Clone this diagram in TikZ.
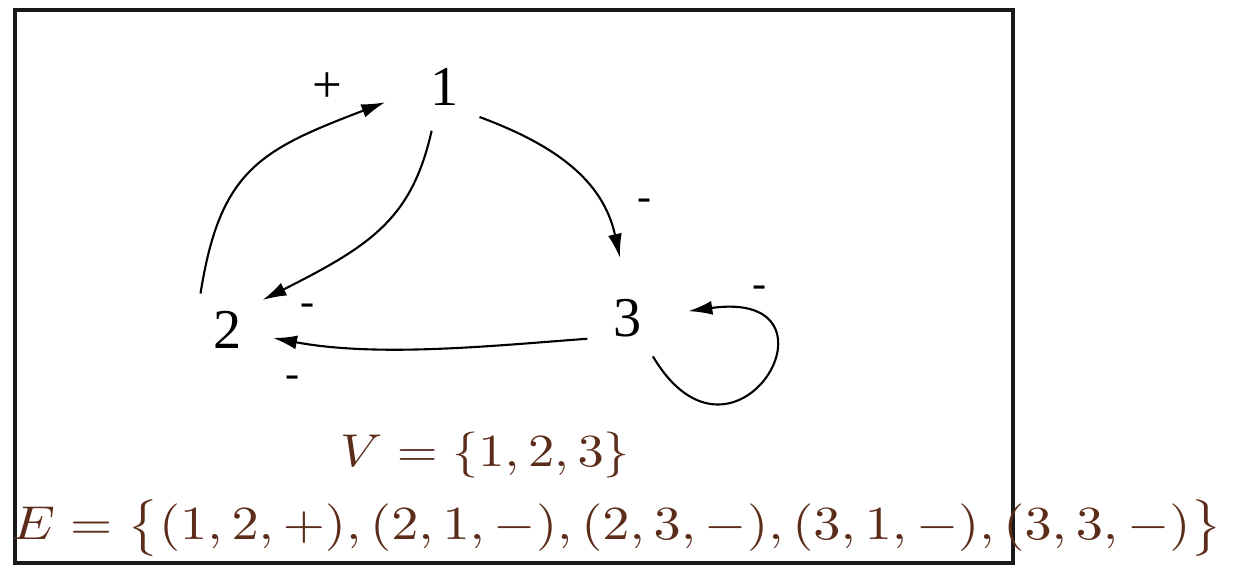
\documentclass[tikz,border=0pt]{standalone}
\usepackage{fontspec}
\usepackage{graphicx}
\newfontfamily\timesfont{Liberation Serif}
\usetikzlibrary{arrows.meta}

\definecolor{setbrown}{RGB}{92,44,26}

\tikzset{
	vertex/.style = {
		circle,
		minimum size = 9mm,
		inner sep = 0pt,
		font = \timesfont\fontsize{16}{18}\selectfont,
	},
	edge/.style = {
		line width = 0.6pt,
		-{Latex[length = 2.4mm, width = 1.4mm]},
	},
	sign/.style = {
		inner sep = 0pt,
		font = \timesfont\fontsize{12}{14}\selectfont,
	},
	settext/.style = {
		inner sep = 0pt,
		text = setbrown,
	},
}

\begin{document}
\begin{tikzpicture}[x = 0.1mm, y = -0.1mm]
	
	\useasboundingbox (0,0) rectangle (1253,582);
	\draw[line width = 0.9pt, black!90] (15,10) rectangle (1013,563);
	
	% vertices
	\node[vertex, name = one] at (445,87) {1};
	\node[vertex, name = two] at (228,330) {2};
	\node[vertex, name = three] at (628,318) {3};
	
	% edges
	\draw[edge, shorten > = 1.6mm]
		(two.127) .. controls (220,170) and (260,150) .. (one.192);
	\draw[edge]
		(one.253) .. controls (412,218) and (372,245) .. (two.41);
	\draw[edge, shorten > = 1.5mm]
		(one.-41) .. controls (555,145) and (603,180) .. (three.96);
	\draw[edge]
		(three.207) .. controls (500,345) and (380,358) .. (two.-10);
	\draw[edge, shorten > = 1.5mm]
		(three.-57) .. controls (735,495) and (855,288) .. (three.6);
	
	% signs
	\node[sign, name = plusonetwo, font = \timesfont\fontsize{15}{16}\selectfont] at (327,88) {+};
	\node[sign, name = minusonethree] at (645,205) {-};
	\node[sign, name = minusonetwo] at (308,310) {-};
	\node[sign, name = minusthreetwo] at (293,382) {-};
	\node[sign, name = minusloop] at (760,292) {-};
	
	% sets
	\node[settext, name = vset] at (485,455)
		{\resizebox*{29mm}{4.6mm}{$V=\{1,2,3\}$}};
	\node[settext, name = eset] at (617,528)
		{\resizebox*{121mm}{5.7mm}{$E=\bigl\{(1,2,+),(2,1,-),(2,3,-),(3,1,-),(3,3,-)\bigr\}$}};
	
\end{tikzpicture}
\end{document}
